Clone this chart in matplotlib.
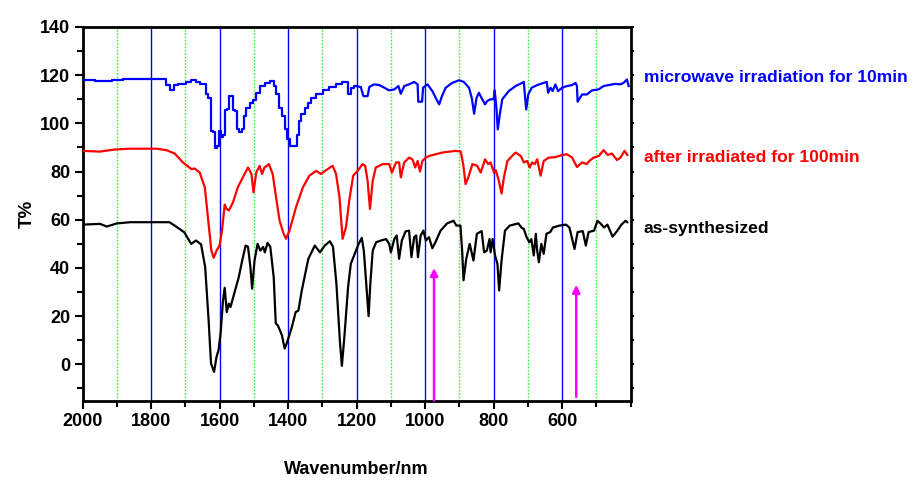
import matplotlib
matplotlib.use("Agg")
import matplotlib.pyplot as plt
from matplotlib.ticker import MultipleLocator
import numpy as np

plt.rcParams['font.family'] = ['Liberation Sans', 'DejaVu Sans']
plt.rcParams['font.weight'] = 'bold'

# ---------------- data ----------------
wn_black = [2000, 1949, 1929, 1900, 1860, 1800, 1746, 1727, 1703, 1683, 1669, 1654, 1642, 1632,
            1625, 1616, 1609, 1603, 1597, 1590, 1585, 1579, 1573, 1568, 1560, 1544, 1534, 1524,
            1517, 1510, 1505, 1498, 1489, 1481, 1473, 1468, 1460, 1452, 1442, 1436, 1430, 1418,
            1410, 1404, 1389, 1378, 1370, 1360, 1341, 1322, 1307, 1293, 1278, 1269, 1259, 1249,
            1243, 1235, 1225, 1217, 1208, 1194, 1185, 1179, 1172, 1165, 1160, 1153, 1143, 1129,
            1114, 1105, 1100, 1090, 1083, 1076, 1068, 1057, 1047, 1040, 1032, 1026, 1021, 1013,
            1005, 998, 989, 979, 970, 955, 936, 917, 909, 897, 892, 888, 880, 870, 859, 849, 835,
            828, 820, 812, 809, 803, 796, 789, 784, 777, 767, 753, 728, 719, 712, 704, 696, 690,
            683, 677, 673, 668, 661, 654, 646, 635, 627, 608, 589, 579, 564, 555, 540, 531, 523,
            507, 497, 487, 478, 468, 453, 439, 427, 415, 410]
t_black = [58.0, 58.3, 57.2, 58.5, 59.0, 59.0, 59.0, 57.2, 54.8, 50.0, 51.4, 49.8, 40.3, 18.3,
           0.4, -3.1, 3.1, 5.9, 12.9, 26.6, 31.8, 21.7, 25.2, 23.8, 28.0, 36.2, 43.1, 49.3,
           48.8, 40.3, 31.4, 43.1, 50.0, 47.2, 48.7, 46.5, 50.4, 48.8, 36.2, 17.0, 16.2, 12.1,
           6.6, 8.7, 15.5, 21.7, 22.3, 30.7, 43.8, 49.3, 46.5, 49.3, 51.1, 48.8, 33.5, 10.0,
           -0.6, 12.8, 32.0, 41.7, 45.0, 50.0, 52.5, 47.2, 33.5, 20.0, 33.5, 47.2, 50.7, 51.4,
           52.0, 50.0, 46.5, 52.0, 53.5, 43.8, 51.4, 55.2, 55.5, 44.5, 52.8, 53.5, 44.5, 53.5,
           55.5, 51.4, 52.8, 48.2, 50.7, 55.5, 58.5, 59.6, 57.6, 57.6, 47.2, 34.9, 43.8, 50.0,
           43.1, 54.2, 55.3, 46.5, 47.2, 52.0, 46.5, 52.0, 45.2, 41.7, 30.7, 43.1, 55.5, 57.6,
           58.5, 56.8, 56.2, 52.8, 50.7, 52.0, 45.2, 54.2, 47.2, 42.4, 50.0, 45.9, 54.2, 54.9,
           56.8, 57.6, 58.0, 56.8, 47.9, 54.9, 55.3, 49.3, 54.9, 55.5, 59.6, 58.3, 56.8, 58.0,
           53.0, 55.5, 58.0, 59.6, 59.0]

wn_red = [2000, 1949, 1910, 1900, 1862, 1784, 1755, 1731, 1707, 1682, 1673, 1658, 1643, 1634,
          1624, 1617, 1609, 1600, 1593, 1585, 1580, 1573, 1561, 1547, 1532, 1517, 1507, 1501,
          1493, 1483, 1476, 1469, 1456, 1445, 1435, 1425, 1413, 1406, 1396, 1377, 1357, 1338,
          1318, 1304, 1289, 1270, 1260, 1250, 1241, 1231, 1221, 1210, 1197, 1183, 1175, 1168,
          1161, 1153, 1144, 1124, 1105, 1097, 1085, 1076, 1071, 1061, 1047, 1037, 1029, 1022,
          1015, 1008, 998, 988, 950, 911, 896, 889, 882, 874, 862, 848, 838, 825, 816, 809, 799,
          794, 785, 777, 770, 760, 746, 736, 721, 712, 702, 695, 688, 680, 673, 663, 654, 639,
          620, 600, 586, 571, 557, 542, 528, 521, 508, 493, 479, 467, 455, 440, 430, 418, 410]
t_red = [88.6, 88.3, 89.1, 89.2, 89.5, 89.5, 88.9, 87.5, 83.8, 81.0, 81.3, 79.6, 73.4, 61.0,
         47.2, 44.2, 47.2, 49.3, 55.5, 66.3, 64.6, 63.8, 67.2, 73.4, 77.6, 81.7, 79.0, 71.4,
         79.6, 82.4, 79.0, 81.7, 83.1, 79.0, 69.3, 59.7, 54.2, 52.1, 55.5, 65.2, 73.4, 78.3,
         80.3, 79.0, 80.6, 82.4, 79.0, 69.3, 52.1, 57.0, 68.5, 78.3, 80.3, 83.1, 82.4, 76.2,
         64.5, 76.2, 81.7, 83.1, 83.1, 79.6, 83.8, 83.8, 77.6, 83.8, 85.8, 85.1, 81.7, 84.4,
         80.0, 84.4, 85.8, 86.5, 87.9, 88.6, 88.3, 83.1, 74.8, 77.6, 83.1, 82.4, 79.6, 85.1,
         83.1, 83.8, 79.6, 80.6, 76.2, 70.9, 77.6, 84.4, 86.5, 87.9, 86.5, 83.8, 84.4, 81.7,
         83.8, 83.1, 85.1, 78.3, 84.4, 85.8, 86.0, 86.9, 87.2, 85.8, 81.9, 83.8, 83.1, 84.4,
         85.8, 86.5, 88.9, 86.9, 87.5, 84.8, 85.8, 88.6, 86.9]

wn_blue = [2000, 1930, 1900, 1862, 1762, 1750, 1738, 1726, 1716, 1702, 1692, 1673, 1664, 1653,
           1643, 1638, 1629, 1621, 1617, 1611, 1605, 1600, 1592, 1588, 1580, 1575, 1571, 1564,
           1559, 1553, 1547, 1537, 1532, 1527, 1517, 1507, 1498, 1488, 1474, 1459, 1445, 1440,
           1432, 1422, 1413, 1406, 1398, 1391, 1377, 1372, 1365, 1357, 1347, 1338, 1328, 1309,
           1289, 1270, 1250, 1236, 1228, 1223, 1212, 1202, 1188, 1180, 1168, 1163, 1149, 1134,
           1119, 1105, 1090, 1078, 1071, 1061, 1047, 1032, 1022, 1020, 1009, 1006, 993, 979,
           967, 959, 951, 940, 921, 901, 887, 872, 864, 857, 850, 843, 835, 825, 819, 809, 800,
           797, 792, 788, 782, 775, 756, 736, 717, 712, 709, 705, 699, 689, 673, 654, 645, 641,
           634, 628, 620, 612, 600, 586, 571, 561, 557, 555, 542, 528, 513, 494, 479, 464, 445,
           430, 421, 411, 406]
t_blue = [117.9, 117.5, 118.2, 118.6, 118.6, 116.1, 113.7, 115.8, 116.5, 116.5, 117.2, 117.9,
          117.2, 116.4, 116.2, 112.0, 110.4, 96.9, 96.4, 89.7, 90.6, 96.8, 94.3, 95.0, 105.4,
          105.8, 111.3, 111.3, 105.4, 105.2, 97.5, 96.6, 97.5, 103.0, 106.5, 108.5, 109.5,
          112.7, 115.5, 116.8, 117.5, 115.5, 112.0, 106.5, 103.0, 97.5, 93.4, 90.6, 90.6, 95.2,
          101.0, 103.8, 106.5, 108.5, 110.6, 112.0, 113.7, 115.0, 116.4, 117.2, 117.2, 112.3,
          114.8, 115.5, 115.1, 111.3, 111.3, 115.1, 116.2, 115.9, 114.8, 113.7, 114.1, 115.5,
          112.3, 115.5, 116.2, 117.2, 116.2, 109.0, 109.0, 114.8, 116.2, 113.4, 110.0, 107.9,
          111.3, 114.8, 116.8, 117.9, 117.2, 114.8, 110.6, 104.0, 110.6, 112.7, 110.4, 107.9,
          109.3, 110.0, 110.0, 113.7, 106.5, 97.5, 103.8, 110.0, 113.4, 115.5, 116.8, 117.2,
          112.0, 105.8, 112.0, 114.8, 115.9, 116.8, 117.2, 112.7, 114.8, 113.4, 116.2, 113.4,
          114.8, 115.5, 115.9, 116.8, 115.5, 109.0, 112.0, 112.0, 113.7, 114.1, 115.5, 115.9,
          116.4, 116.2, 116.8, 118.2, 115.5]

series_labels = ["microwave irradiation for 10min", "after irradiated for 100min", "as-synthesized"]
arrow_wn = [974, 559]
arrow_tip = [40, 33]
arrow_base = [-15, -13.5]

# ---------------- figure ----------------
fig = plt.figure(figsize=(9.17, 4.82), dpi=100)
ax = fig.add_axes([0.090, 0.169, 0.5978, 0.775])

ax.set_xlim(2000, 400)
ax.set_ylim(-15, 140)

# vertical grid lines
for w in range(1800, 400, -200):
    ax.axvline(w, color='#0000ff', lw=1.0, zorder=1)
for w in range(1900, 400, -200):
    ax.axvline(w, color='#33ee33', lw=1.0, ls=(0, (1.2, 1.2)), zorder=1)

wb = np.array(wn_blue)
tb = np.array(t_blue)
split = wb >= 1190
last_step = np.where(split)[0][-1]
ax.plot(wb[split], tb[split], color='#0000ff', lw=1.6, drawstyle='steps-mid', zorder=3)
ax.plot(wb[last_step:], tb[last_step:], color='#0000ff', lw=1.6, zorder=3)
ax.plot(wn_red, t_red, color='#ff0000', lw=1.6, zorder=3)
ax.plot(wn_black, t_black, color='black', lw=1.6, zorder=3)

for w, tip, base in zip(arrow_wn, arrow_tip, arrow_base):
    ax.annotate('', xy=(w, tip), xytext=(w, base),
                arrowprops=dict(arrowstyle='-|>', color='#ff00ff', lw=1.8,
                                mutation_scale=11, shrinkA=0, shrinkB=0),
                zorder=4, annotation_clip=False)

ax.xaxis.set_major_locator(MultipleLocator(200))
ax.xaxis.set_minor_locator(MultipleLocator(100))
ax.yaxis.set_major_locator(MultipleLocator(20))
ax.yaxis.set_minor_locator(MultipleLocator(10))
ax.set_xticks(range(2000, 599, -200))
ax.set_yticks(range(0, 141, 20))

ax.tick_params(axis='both', which='major', direction='out', length=6, width=1.5,
               labelsize=13, pad=3)
ax.tick_params(axis='both', which='minor', direction='out', length=4, width=1.5)
ax.tick_params(axis='y', which='both', right=True)
for lab in ax.get_xticklabels() + ax.get_yticklabels():
    lab.set_fontweight('bold')

# short ticks on the right spine
for tick in ax.yaxis.get_major_ticks() + ax.yaxis.get_minor_ticks():
    tick.tick2line.set_markersize(2)

for s in ax.spines.values():
    s.set_linewidth(2)

ax.set_xlabel('Wavenumber/nm', fontsize=13, fontweight='bold', labelpad=22)
ax.set_ylabel('T%', fontsize=13.5, fontweight='bold', labelpad=3)

fig.text(644 / 917, 1 - 78 / 482, series_labels[0], color='#0000ff', fontsize=12.6,
         fontweight='bold', va='center', ha='left')
fig.text(644 / 917, 1 - 157 / 482, series_labels[1], color='#ff0000', fontsize=12.6,
         fontweight='bold', va='center', ha='left')
fig.text(644 / 917, 1 - 228 / 482, series_labels[2], color='black', fontsize=12.6,
         fontweight='bold', va='center', ha='left')

fig.savefig('out.png', dpi=100)
